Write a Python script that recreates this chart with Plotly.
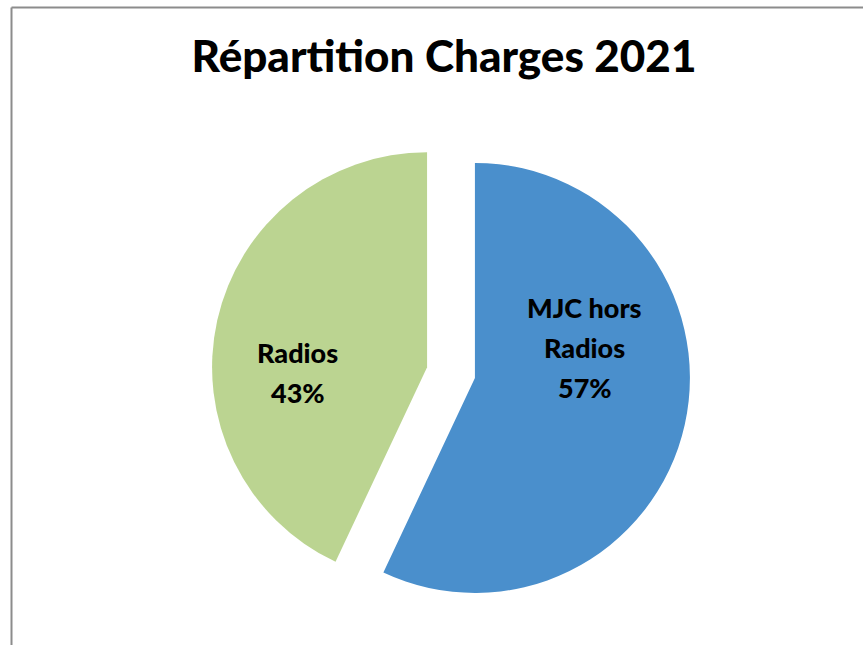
import math
import plotly.graph_objects as go

labels = ["MJC hors<br>Radios", "Radios"]
values = [57, 43]
colors = ["#4a8fcc", "#bbd491"]
pulls = [0.114, 0.114]
title_text = "Répartition Charges 2021"

# label placement (style): angular offset from slice bisector (deg), radial fraction
label_angle_offset = [-27.9, -14.7]
label_radius_frac = [0.53, 0.603]

W, H = 863, 645
CX, CY, R = 451.0, 372.6, 215.0   # pie centre / radius in pixels
PULL = max(pulls)
half = R * (1 + PULL)

dom_x = [(CX - half) / W, (CX + half) / W]
dom_y = [1 - (CY + half) / H, 1 - (CY - half) / H]

fig = go.Figure(go.Pie(
    labels=labels,
    values=values,
    sort=False,
    direction="clockwise",
    rotation=0,
    pull=pulls,
    marker=dict(colors=colors, line=dict(width=0)),
    textinfo="none",
    hoverinfo="label+percent",
    domain=dict(x=dom_x, y=dom_y),
    showlegend=False,
))

# in-slice labels, placed from the data angles
total = sum(values)
cum = 0.0
annotations = []
LINE_H = 40
for lab, v, p, d, f in zip(labels, values, pulls, label_angle_offset, label_radius_frac):
    theta = math.radians(360 * (cum + v / 2) / total)
    cum += v
    ax = CX + p * R * math.sin(theta)
    ay = CY - p * R * math.cos(theta)
    phi = theta + math.radians(d)
    lx = ax + f * R * math.sin(phi)
    ly = ay - f * R * math.cos(phi)
    lines = lab.split("<br>") + [f"{round(100 * v / total)}%"]
    n = len(lines)
    for i, line in enumerate(lines):
        annotations.append(dict(
            x=lx / W, y=1 - ly / H, xref="paper", yref="paper",
            text=line, showarrow=False,
            xanchor="center", yanchor="middle",
            yshift=((n - 1) / 2 - i) * LINE_H,
            font=dict(family="Lato", size=27, color="black", weight=900),
        ))

fig.update_layout(
    width=W, height=H,
    margin=dict(l=0, r=0, t=0, b=0),
    paper_bgcolor="white",
    title=dict(text=title_text, x=444 / W, xanchor="center",
               y=1 - 57 / H, yanchor="middle", yref="container",
               font=dict(family="Lato", size=44, color="black", weight=900)),
    annotations=annotations,
    shapes=[
        dict(type="line", xref="paper", yref="paper", x0=11.5 / W, x1=11.5 / W, y0=0, y1=1 - 7.5 / H,
             line=dict(color="#8c8c8c", width=2)),
        dict(type="line", xref="paper", yref="paper", x0=11.5 / W, x1=1, y0=1 - 7.5 / H, y1=1 - 7.5 / H,
             line=dict(color="#8c8c8c", width=2)),
    ],
)

fig.write_html("out.html", config={"displayModeBar": False},
               post_script="document.body.style.margin='0';")
